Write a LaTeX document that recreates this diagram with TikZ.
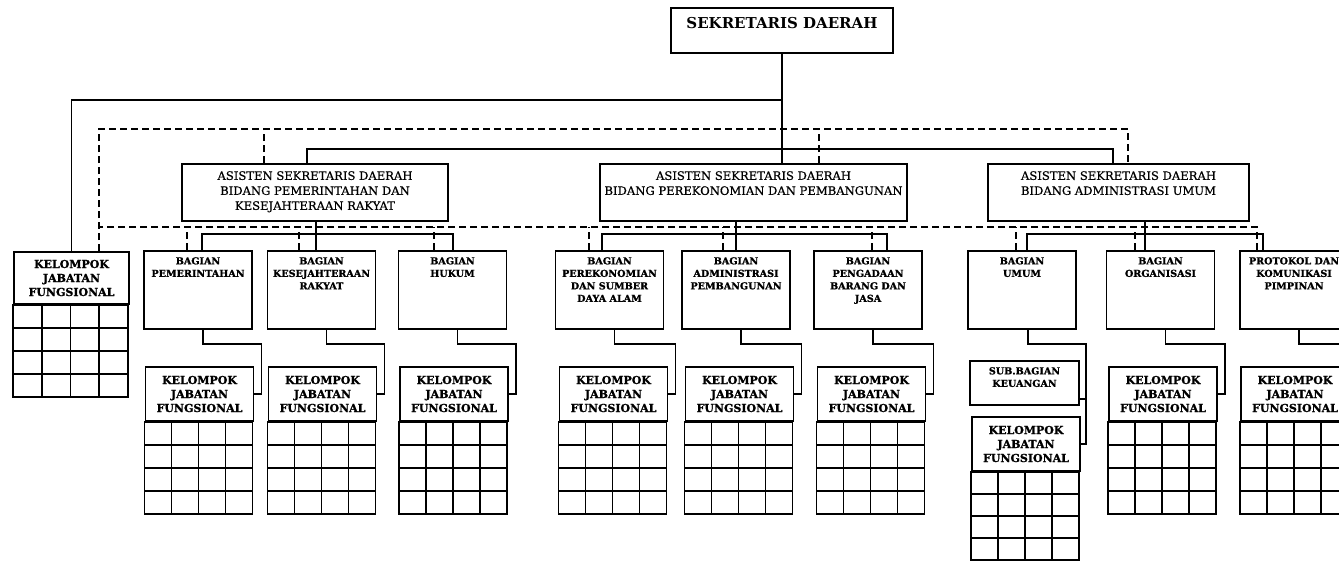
\documentclass[tikz,border=0pt]{standalone}
\usepackage{fontspec}
\setmainfont{DejaVu Serif}
\newfontfamily\tebal{DejaVu Serif}[FakeBold=1.2]
\newfontfamily\sedang{DejaVu Serif}[UprightFeatures={FakeBold=0.6}]
\usetikzlibrary{positioning}

\begin{document}
\begin{tikzpicture}[x=1pt,y=-1pt]
        \useasboundingbox (0,0) rectangle (1339,561);
        \clip (0,0) rectangle (1339,561);
                \begin{scope}[kotak/.style={draw, line width=1.9pt, inner sep=0pt},
                              tulis/.style={align=center, anchor=north, inner sep=0pt},
                              asisten/.style={kotak, minimum height=57, label={[tulis, yshift=-8pt, font=\fontsize{11.6}{15}\selectfont\sedang]north:#1}},
                              bagian/.style={kotak, minimum width=108, minimum height=78, label={[tulis, yshift=-7pt, font=\fontsize{9.6}{12.5}\selectfont\tebal\bfseries]north:#1}},
                              kjf/.style={kotak, minimum width=108, minimum height=54, align=center, font=\fontsize{11}{14}\selectfont\tebal\bfseries}]
                        \node[kotak, minimum width=222, minimum height=45, label={[tulis, yshift=-10pt, font=\fontsize{15}{17}\selectfont\bfseries]north:SEKRETARIS DAERAH}] (Sekda) at (782,30.5) {};
                        \node[asisten={ASISTEN SEKRETARIS DAERAH\\BIDANG PEMERINTAHAN DAN\\KESEJAHTERAAN RAKYAT}, minimum width=266] (AsPem) at (315,192.5) {};
                        \node[asisten={ASISTEN SEKRETARIS DAERAH\\BIDANG PEREKONOMIAN DAN PEMBANGUNAN}, minimum width=307] (AsEko) at (753.5,192.5) {};
                        \node[asisten={ASISTEN SEKRETARIS DAERAH\\BIDANG ADMINISTRASI UMUM}, minimum width=261] (AsAdm) at (1118.5,192.5) {};
                        \node[kjf, minimum width=115, minimum height=52] (KjfSekda) at (71.5,278) {KELOMPOK\\JABATAN\\FUNGSIONAL};
                        \node[bagian={BAGIAN\\PEMERINTAHAN}] (BgPem) at (198,290) {};
                        \node[bagian={BAGIAN\\KESEJAHTERAAN\\RAKYAT}] (BgKes) at (321.5,290) {};
                        \node[bagian={BAGIAN\\HUKUM}] (BgHuk) at (452.5,290) {};
                        \node[bagian={BAGIAN\\PEREKONOMIAN\\DAN SUMBER\\DAYA ALAM}] (BgEko) at (609.5,290) {};
                        \node[bagian={BAGIAN\\ADMINISTRASI\\PEMBANGUNAN}] (BgAdm) at (736,290) {};
                        \node[bagian={BAGIAN\\PENGADAAN\\BARANG DAN\\JASA}] (BgPen) at (868,290) {};
                        \node[bagian={BAGIAN\\UMUM}] (BgUmum) at (1022,290) {};
                        \node[bagian={BAGIAN\\ORGANISASI}] (BgOrg) at (1160.5,290) {};
                        \node[bagian={PROTOKOL DAN\\KOMUNIKASI\\PIMPINAN}] (BgPro) at (1294,290) {};
                        \node[bagian={SUB.BAGIAN\\KEUANGAN}, minimum width=109, minimum height=44] (SubKeu) at (1024.5,383) {};
                        \node[kjf] (KjfPem) at (199.5,394) {KELOMPOK\\JABATAN\\FUNGSIONAL};
                        \node[kjf] (KjfKes) at (322.5,394) {KELOMPOK\\JABATAN\\FUNGSIONAL};
                        \node[kjf] (KjfHuk) at (454,394) {KELOMPOK\\JABATAN\\FUNGSIONAL};
                        \node[kjf] (KjfEko) at (613.5,394) {KELOMPOK\\JABATAN\\FUNGSIONAL};
                        \node[kjf] (KjfAdm) at (739.5,394) {KELOMPOK\\JABATAN\\FUNGSIONAL};
                        \node[kjf] (KjfPen) at (871.5,394) {KELOMPOK\\JABATAN\\FUNGSIONAL};
                        \node[kjf] (KjfUmum) at (1026,444) {KELOMPOK\\JABATAN\\FUNGSIONAL};
                        \node[kjf] (KjfOrg) at (1163,394) {KELOMPOK\\JABATAN\\FUNGSIONAL};
                        \node[kjf] (KjfPro) at (1295,394) {KELOMPOK\\JABATAN\\FUNGSIONAL};
                \end{scope}
                % kisi-kisi jabatan fungsional
                \begin{scope}[kisi/.style={line width=1.7pt}]
                        \draw[kisi, shift={(KjfSekda.south west)}] (0pt,-92pt) rectangle (115pt,0pt) (0pt,-92pt) grid[xstep=28.75pt, ystep=23pt] (115pt,0pt);
                        \draw[kisi, shift={(KjfPem.south west)}] (0pt,-92pt) rectangle (108pt,0pt) (0pt,-92pt) grid[xstep=27pt, ystep=23pt] (108pt,0pt);
                        \draw[kisi, shift={(KjfKes.south west)}] (0pt,-92pt) rectangle (108pt,0pt) (0pt,-92pt) grid[xstep=27pt, ystep=23pt] (108pt,0pt);
                        \draw[kisi, shift={(KjfHuk.south west)}] (0pt,-92pt) rectangle (108pt,0pt) (0pt,-92pt) grid[xstep=27pt, ystep=23pt] (108pt,0pt);
                        \draw[kisi, shift={(KjfEko.south west)}] (0pt,-92pt) rectangle (108pt,0pt) (0pt,-92pt) grid[xstep=27pt, ystep=23pt] (108pt,0pt);
                        \draw[kisi, shift={(KjfAdm.south west)}] (0pt,-92pt) rectangle (108pt,0pt) (0pt,-92pt) grid[xstep=27pt, ystep=23pt] (108pt,0pt);
                        \draw[kisi, shift={(KjfPen.south west)}] (0pt,-92pt) rectangle (108pt,0pt) (0pt,-92pt) grid[xstep=27pt, ystep=23pt] (108pt,0pt);
                        \draw[kisi, shift={(KjfUmum.south west)}] (0pt,-88pt) rectangle (108pt,0pt) (0pt,-88pt) grid[xstep=27pt, ystep=22pt] (108pt,0pt);
                        \draw[kisi, shift={(KjfOrg.south west)}] (0pt,-92pt) rectangle (108pt,0pt) (0pt,-92pt) grid[xstep=27pt, ystep=23pt] (108pt,0pt);
                        \draw[kisi, shift={(KjfPro.south west)}] (0pt,-92pt) rectangle (108pt,0pt) (0pt,-92pt) grid[xstep=27pt, ystep=23pt] (108pt,0pt);
                \end{scope}
                \begin{scope}[garis/.style={line width=1.9pt}, putus/.style={line width=1.8pt, dash pattern=on 7pt off 4pt}]
                        % garis komando
                        \draw[garis] (Sekda.south) -- (Sekda.south |- AsEko.north);
                        \draw[garis] (Sekda.south |- 0,100) -| (KjfSekda.north);
                        \draw[garis] (AsPem.north -| 307,0) -- ++(0,-14) -| (AsAdm.north -| 1113,0);
                        \draw[garis] (AsPem.south -| 316,0) -- (BgKes.north -| 316,0);
                        \draw[garis] (BgPem.north -| 202,0) -- ++(0,-16) -| (BgHuk.north -| 453,0);
                        \draw[garis] (AsEko.south -| 736,0) -- (BgAdm.north);
                        \draw[garis] (BgEko.north -| 602,0) -- ++(0,-16) -| (BgPen.north -| 887,0);
                        \draw[garis] (AsAdm.south -| 1145,0) -- (BgOrg.north -| 1145,0);
                        \draw[garis] (BgUmum.north -| 1027,0) -- ++(0,-16) -| (BgPro.north -| 1263,0);
                        % garis ke kelompok jabatan fungsional
                        \draw[garis] ([xshift=5pt]BgPem.south) -- ++(0,14) -| ([xshift=7pt]KjfPem.east) -- (KjfPem.east);
                        \draw[garis] ([xshift=5pt]BgKes.south) -- ++(0,14) -| ([xshift=7pt]KjfKes.east) -- (KjfKes.east);
                        \draw[garis] ([xshift=5pt]BgHuk.south) -- ++(0,14) -| ([xshift=7pt]KjfHuk.east) -- (KjfHuk.east);
                        \draw[garis] ([xshift=5pt]BgEko.south) -- ++(0,14) -| ([xshift=7pt]KjfEko.east) -- (KjfEko.east);
                        \draw[garis] ([xshift=5pt]BgAdm.south) -- ++(0,14) -| ([xshift=7pt]KjfAdm.east) -- (KjfAdm.east);
                        \draw[garis] ([xshift=5pt]BgPen.south) -- ++(0,14) -| ([xshift=7pt]KjfPen.east) -- (KjfPen.east);
                        \draw[garis] ([xshift=6pt]BgUmum.south) -- ++(0,14) -| ([xshift=5pt]KjfUmum.east) -- (KjfUmum.east);
                        \draw[garis] ([yshift=-16pt]SubKeu.east) -- ++(6,0);
                        \draw[garis] ([xshift=5pt]BgOrg.south) -- ++(0,14) -| ([xshift=7pt]KjfOrg.east) -- (KjfOrg.east);
                        \draw[garis] ([xshift=5pt]BgPro.south) -- ++(0,14) -| ([xshift=7pt]KjfPro.east) -- (KjfPro.east);
                        % garis koordinasi
                        \draw[putus] (KjfSekda.north -| 99,0) -- ++(0,-122) -| (AsAdm.north -| 1128,0);
                        \draw[putus] (AsPem.north -| 264,0) -- ++(0,-34);
                        \draw[putus] (AsEko.north -| 819,0) -- ++(0,-34);
                        \draw[putus] (BgPro.north -| 1257,0) -- ++(0,-23) -- ++(-1158,0);
                        \draw[putus] (BgPem.north -| 187,0) -- ++(0,-23);
                        \draw[putus] (BgKes.north -| 299,0) -- ++(0,-23);
                        \draw[putus] (BgHuk.north -| 434,0) -- ++(0,-23);
                        \draw[putus] (BgEko.north -| 589,0) -- ++(0,-23);
                        \draw[putus] (BgAdm.north -| 723,0) -- ++(0,-23);
                        \draw[putus] (BgPen.north -| 872,0) -- ++(0,-23);
                        \draw[putus] (BgUmum.north -| 1016,0) -- ++(0,-23);
                        \draw[putus] (BgOrg.north -| 1135,0) -- ++(0,-23);
                \end{scope}
\end{tikzpicture}
\end{document}
